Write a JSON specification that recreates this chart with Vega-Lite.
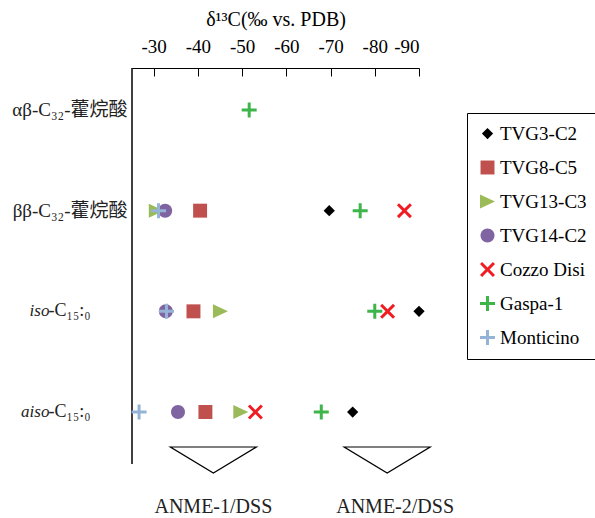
{
  "$schema": "https://vega.github.io/schema/vega-lite/v6.json",
  "width": 287,
  "height": 396,
  "autosize": {"type": "none"},
  "padding": {"left": 132, "top": 68, "right": 176, "bottom": 54},
  "background": "white",
  "config": {
    "view": {"stroke": null},
    "font": "Liberation Serif",
    "legend": {"labelFont": "Liberation Serif", "labelFontSize": 19, "labelColor": "black"}
  },
  "datasets": {
    "pts": [
      {"compound": "αβ-C₃₂-藿烷酸", "sample": "Gaspa-1", "d13C": -51.6},
      {"compound": "ββ-C₃₂-藿烷酸", "sample": "TVG3-C2", "d13C": -69.7},
      {"compound": "ββ-C₃₂-藿烷酸", "sample": "TVG8-C5", "d13C": -40.5},
      {"compound": "ββ-C₃₂-藿烷酸", "sample": "TVG13-C3", "d13C": -30.6},
      {"compound": "ββ-C₃₂-藿烷酸", "sample": "TVG14-C2", "d13C": -32.6},
      {"compound": "ββ-C₃₂-藿烷酸", "sample": "Gaspa-1", "d13C": -76.7},
      {"compound": "ββ-C₃₂-藿烷酸", "sample": "Cozzo Disi", "d13C": -86.7},
      {"compound": "ββ-C₃₂-藿烷酸", "sample": "Monticino", "d13C": -31.1},
      {"compound": "iso-C₁₅:₀", "sample": "TVG3-C2", "d13C": -90.0},
      {"compound": "iso-C₁₅:₀", "sample": "TVG8-C5", "d13C": -39.0},
      {"compound": "iso-C₁₅:₀", "sample": "TVG13-C3", "d13C": -45.1},
      {"compound": "iso-C₁₅:₀", "sample": "TVG14-C2", "d13C": -32.75},
      {"compound": "iso-C₁₅:₀", "sample": "Gaspa-1", "d13C": -80.0},
      {"compound": "iso-C₁₅:₀", "sample": "Cozzo Disi", "d13C": -82.9},
      {"compound": "iso-C₁₅:₀", "sample": "Monticino", "d13C": -32.9},
      {"compound": "aiso-C₁₅:₀", "sample": "TVG3-C2", "d13C": -75.0},
      {"compound": "aiso-C₁₅:₀", "sample": "TVG8-C5", "d13C": -41.7},
      {"compound": "aiso-C₁₅:₀", "sample": "TVG13-C3", "d13C": -49.7},
      {"compound": "aiso-C₁₅:₀", "sample": "TVG14-C2", "d13C": -35.5},
      {"compound": "aiso-C₁₅:₀", "sample": "Gaspa-1", "d13C": -67.9},
      {"compound": "aiso-C₁₅:₀", "sample": "Cozzo Disi", "d13C": -53.0},
      {"compound": "aiso-C₁₅:₀", "sample": "Monticino", "d13C": -26.7}
    ],
    "hop": [
      {"compound": "αβ-C₃₂-藿烷酸"},
      {"compound": "ββ-C₃₂-藿烷酸"}
    ],
    "fa": [
      {"compound": "iso-C₁₅:₀", "prefix": "iso", "suffix": "-C₁₅:₀"},
      {"compound": "aiso-C₁₅:₀", "prefix": "aiso", "suffix": "-C₁₅:₀"}
    ],
    "anme": [
      {"label": "ANME-1/DSS", "d13C": -43.5, "labelAt": -43.5},
      {"label": "ANME-2/DSS", "d13C": -82.8, "labelAt": -84.6}
    ]
  },
  "layer": [
    {
      "data": {"values": [{}]},
      "mark": {"type": "rule", "color": "black", "strokeWidth": 1.5},
      "encoding": {"x": {"datum": -25.1}}
    },
    {
      "data": {"name": "pts"},
      "mark": {"type": "point", "filled": true, "opacity": 1, "size": 225, "strokeWidth": 0},
      "encoding": {
        "x": {
          "field": "d13C",
          "type": "quantitative",
          "title": "δ¹³C(‰  vs. PDB)",
          "scale": {"domain": [-25.1, -90], "nice": false, "zero": false},
          "axis": {
            "orient": "top",
            "values": [-30, -40, -50, -60, -70, -80, -90],
            "labelExpr": "toString(datum.value)",
            "grid": false,
            "domainColor": "black",
            "domainWidth": 1,
            "tickColor": "black",
            "tickWidth": 1,
            "tickSize": -8,
            "labelPadding": 20,
            "labelFont": "Liberation Serif",
            "labelFontSize": 19,
            "labelColor": "black",
            "titleFont": "Liberation Serif",
            "titleFontSize": 20,
            "titleFontWeight": "normal",
            "titleColor": "black",
            "titlePadding": 8
          }
        },
        "y": {
          "field": "compound",
          "type": "ordinal",
          "scale": {
            "type": "point",
            "domain": ["αβ-C₃₂-藿烷酸", "ββ-C₃₂-藿烷酸", "iso-C₁₅:₀", "aiso-C₁₅:₀"],
            "range": [42, 344],
            "padding": 0
          },
          "axis": null
        },
        "color": {
          "field": "sample",
          "type": "nominal",
          "scale": {
            "domain": ["TVG3-C2", "TVG8-C5", "TVG13-C3", "TVG14-C2", "Cozzo Disi", "Gaspa-1", "Monticino"],
            "range": ["#000000", "#C0504D", "#9BBB59", "#8064A2", "#F01C24", "#3DB54A", "#95B3D7"]
          },
          "legend": {
            "orient": "none",
            "legendX": 335,
            "legendY": 45,
            "title": null,
            "strokeColor": "black",
            "fillColor": "white",
            "padding": 11,
            "rowPadding": 14,
            "labelFont": "Liberation Serif",
            "labelFontSize": 19,
            "labelColor": "black",
            "labelOffset": 3,
            "symbolSize": 225,
            "symbolStrokeWidth": 0,
            "symbolOpacity": 1
          }
        },
        "shape": {
          "field": "sample",
          "type": "nominal",
          "scale": {
            "domain": ["TVG3-C2", "TVG8-C5", "TVG13-C3", "TVG14-C2", "Cozzo Disi", "Gaspa-1", "Monticino"],
            "range": [
              "M0,-0.75L0.75,0L0,0.75L-0.75,0Z",
              "M-0.93,-0.93L0.93,-0.93L0.93,0.93L-0.93,0.93Z",
              "M-1,-0.93L1,0L-1,0.93Z",
              "M-0.93,0A0.93,0.93,0,1,1,0.93,0A0.93,0.93,0,1,1,-0.93,0Z",
              "M-1,-0.72L-0.72,-1L0,-0.28L0.72,-1L1,-0.72L0.28,0L1,0.72L0.72,1L0,0.28L-0.72,1L-1,0.72L-0.28,0Z",
              "M-1,-0.2L-0.2,-0.2L-0.2,-1L0.2,-1L0.2,-0.2L1,-0.2L1,0.2L0.2,0.2L0.2,1L-0.2,1L-0.2,0.2L-1,0.2Z",
              "M-1,-0.2L-0.2,-0.2L-0.2,-1L0.2,-1L0.2,-0.2L1,-0.2L1,0.2L0.2,0.2L0.2,1L-0.2,1L-0.2,0.2L-1,0.2Z"
            ]
          },
          "legend": {
            "orient": "none",
            "legendX": 335,
            "legendY": 45,
            "title": null,
            "labelFont": "Liberation Serif",
            "labelFontSize": 19,
            "labelColor": "black"
          }
        }
      }
    },
    {
      "data": {"name": "hop"},
      "mark": {"type": "text", "align": "right", "baseline": "middle", "fontSize": 19, "font": "Liberation Serif, DejaVu Serif, Noto Sans CJK SC", "color": "#222222"},
      "encoding": {
        "x": {"datum": -24.1},
        "y": {"field": "compound", "type": "ordinal"},
        "text": {"field": "compound"}
      }
    },
    {
      "data": {"name": "fa"},
      "mark": {"type": "text", "align": "right", "baseline": "middle", "fontSize": 18, "font": "Liberation Serif, DejaVu Serif", "color": "#222222"},
      "encoding": {
        "x": {"datum": -15.7},
        "y": {"field": "compound", "type": "ordinal"},
        "text": {"field": "suffix"}
      }
    },
    {
      "data": {"name": "fa"},
      "mark": {"type": "text", "align": "right", "baseline": "middle", "dx": -41, "fontSize": 17, "fontStyle": "italic", "font": "Liberation Serif", "color": "#222222"},
      "encoding": {
        "x": {"datum": -15.7},
        "y": {"field": "compound", "type": "ordinal"},
        "text": {"field": "prefix"}
      }
    },
    {
      "data": {"name": "anme"},
      "mark": {"type": "point", "shape": "M-1,0.814L1,0.814L0,1.419Z", "size": 7396, "filled": false, "stroke": "black", "strokeWidth": 1.2, "opacity": 1},
      "encoding": {
        "x": {"field": "d13C", "type": "quantitative"},
        "y": {"datum": "aiso-C₁₅:₀", "type": "ordinal"}
      }
    },
    {
      "data": {"name": "anme"},
      "mark": {"type": "text", "align": "center", "baseline": "middle", "dy": 95, "fontSize": 20, "font": "Liberation Serif", "color": "#222222"},
      "encoding": {
        "x": {"field": "labelAt", "type": "quantitative"},
        "y": {"datum": "aiso-C₁₅:₀", "type": "ordinal"},
        "text": {"field": "label"}
      }
    }
  ]
}
